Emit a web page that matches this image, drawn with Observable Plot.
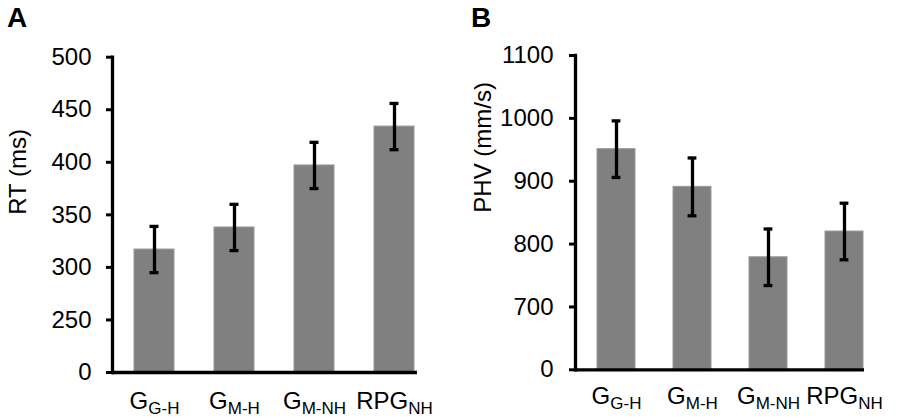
<!DOCTYPE html>
<html>
<head>
<meta charset="utf-8">
<script src="https://cdn.jsdelivr.net/npm/d3@7"></script>
<script src="https://cdn.jsdelivr.net/npm/@observablehq/plot@0.6"></script>
<style>
  body { margin: 0; background: #fff; font-family: "Liberation Sans", Arial, sans-serif; }
  #wrap { position: relative; width: 900px; height: 418px; display: flex; }
  .panel { width: 450px; height: 418px; }
  .lbl { position: absolute; font-weight: bold; font-size: 28px; line-height: 1; color: #000; }
</style>
</head>
<body>
<div id="wrap">
  <div class="panel" id="pa"></div>
  <div class="panel" id="pb"></div>
  <div class="lbl" style="left:7px; top:4.4px;">A</div>
  <div class="lbl" style="left:471px; top:4.4px;">B</div>
</div>
<script>
// Categories (main text _ subscript)
const groups = ["G_G-H", "G_M-H", "G_M-NH", "RPG_NH"];
// Panel A: reaction time (ms)
const rtMean = [317, 338, 397, 434];
const rtErr  = [22, 22, 22, 22];
const rtTicks = [200, 250, 300, 350, 400, 450, 500];
const rtTickLabels = ["0", "250", "300", "350", "400", "450", "500"];
// Panel B: peak hand velocity (mm/s)
const phvMean = [951, 891, 779, 820];
const phvErr  = [45, 46, 45, 45];
const phvTicks = [600, 700, 800, 900, 1000, 1100];
const phvTickLabels = ["0", "700", "800", "900", "1000", "1100"];

const font = '"Liberation Sans", Arial, sans-serif';

function panel(opts) {
  const data = groups.map((g, i) => ({g, v: opts.mean[i], lo: opts.mean[i] - opts.err[i], hi: opts.mean[i] + opts.err[i]}));
  const base = opts.ticks[0];
  const svg = Plot.plot({
    width: 450, height: 418,
    marginLeft: opts.ml, marginRight: opts.mr, marginTop: opts.mt, marginBottom: opts.mb,
    style: {fontFamily: font, background: "#fff", color: "#000"},
    x: {domain: groups, paddingInner: 0.5, paddingOuter: opts.po, align: opts.align},
    y: {domain: [base, opts.ticks[opts.ticks.length - 1]]},
    marks: [
      Plot.barY(data, {x: "g", y1: base, y2: "v", fill: "#808080", stroke: "#9a9a9a", strokeWidth: 1}),
      Plot.ruleX(data, {x: "g", y1: "lo", y2: "hi", stroke: "#000", strokeWidth: 3.3}),
      Plot.tickY(data, {x: "g", y: "lo", stroke: "#000", strokeWidth: 3.3, insetLeft: opts.cap, insetRight: opts.cap}),
      Plot.tickY(data, {x: "g", y: "hi", stroke: "#000", strokeWidth: 3.3, insetLeft: opts.cap, insetRight: opts.cap}),
      Plot.ruleY([base], {stroke: "#000", strokeWidth: 3.3}),
      Plot.frame({anchor: "left", stroke: "#000", strokeWidth: 3.3}),
      Plot.axisY({ticks: opts.ticks, tickFormat: (d) => opts.tickLabels[opts.ticks.indexOf(d)], tickSize: 6, tickPadding: opts.tp, fontSize: 24, strokeWidth: 3, label: null}),
      Plot.axisX({tickSize: 0, tickPadding: opts.xtp, fontSize: 24, label: null}),
      Plot.text([opts.ylabel], {text: (d) => d, frameAnchor: "left", rotate: -90, dx: opts.ylx - opts.ml, fontSize: 24, fill: "#000"})
    ]
  });
  // subscripts in x tick labels
  svg.querySelectorAll('g[aria-label="x-axis tick label"] text').forEach((t) => {
    const s = t.textContent;
    const [main, sub] = s.split("_");
    t.textContent = "";
    const a = document.createElementNS("http://www.w3.org/2000/svg", "tspan");
    a.textContent = main;
    const b = document.createElementNS("http://www.w3.org/2000/svg", "tspan");
    b.textContent = sub;
    b.setAttribute("font-size", "17");
    b.setAttribute("dy", "5");
    t.appendChild(a);
    t.appendChild(b);
  });
  return svg;
}

document.getElementById("pa").appendChild(panel({
  mean: rtMean, err: rtErr, ticks: rtTicks, tickLabels: rtTickLabels,
  ml: 112, mr: 33, mt: 56.7, mb: 46, po: 0.156, align: 0.88, cap: 15.5, tp: 15, xtp: 19,
  ylabel: "RT (ms)", ylx: 17.5
}));
document.getElementById("pb").appendChild(panel({
  mean: phvMean, err: phvErr, ticks: phvTicks, tickLabels: phvTickLabels,
  ml: 125, mr: 36, mt: 55, mb: 48.7, po: 0.1415, align: 0.94, cap: 14.6, tp: 16, xtp: 17,
  ylabel: "PHV (mm/s)", ylx: 32.5
}));
</script>
</body>
</html>
